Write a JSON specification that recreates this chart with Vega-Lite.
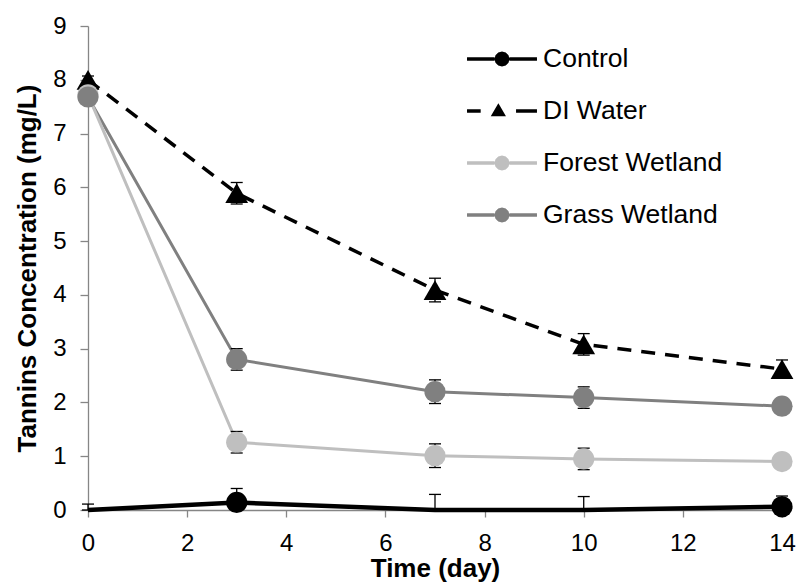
{
  "$schema": "https://vega.github.io/schema/vega-lite/v6.json",
  "width": 694,
  "height": 484,
  "autosize": {"type": "none"},
  "padding": {"left": 88, "top": 26, "right": 16, "bottom": 72},
  "background": "white",
  "config": {
    "view": {"stroke": null},
    "font": "Liberation Sans",
    "axis": {
      "grid": false,
      "domainColor": "#868686",
      "tickColor": "#868686",
      "domainWidth": 1.3,
      "tickWidth": 1.3,
      "labelColor": "#000000",
      "titleColor": "#000000",
      "labelFont": "Liberation Sans",
      "titleFont": "Liberation Sans",
      "labelFontSize": 24,
      "titleFontSize": 26,
      "titleFontWeight": "bold"
    },
    "legend": {"labelFont": "Liberation Sans"}
  },
  "data": {
    "values": [
      {"series": "Control", "time": 0, "value": -0.05, "lo": 0, "hi": 0.11},
      {"series": "Control", "time": 3, "value": 0.14, "lo": 0.14, "hi": 0.40},
      {"series": "Control", "time": 7, "value": -0.05, "lo": 0, "hi": 0.29},
      {"series": "Control", "time": 10, "value": -0.05, "lo": 0, "hi": 0.25},
      {"series": "Control", "time": 14, "value": 0.06, "lo": 0.06, "hi": 0.26},
      {"series": "DI Water", "time": 0, "value": 8.0, "lo": 7.93, "hi": 8.07},
      {"series": "DI Water", "time": 3, "value": 5.89, "lo": 5.69, "hi": 6.09},
      {"series": "DI Water", "time": 7, "value": 4.09, "lo": 3.87, "hi": 4.31},
      {"series": "DI Water", "time": 10, "value": 3.08, "lo": 2.88, "hi": 3.28},
      {"series": "DI Water", "time": 14, "value": 2.62, "lo": 2.45, "hi": 2.79},
      {"series": "Forest Wetland", "time": 0, "value": 7.72, "lo": null, "hi": null},
      {"series": "Forest Wetland", "time": 3, "value": 1.26, "lo": 1.06, "hi": 1.46},
      {"series": "Forest Wetland", "time": 7, "value": 1.01, "lo": 0.79, "hi": 1.23},
      {"series": "Forest Wetland", "time": 10, "value": 0.95, "lo": 0.75, "hi": 1.15},
      {"series": "Forest Wetland", "time": 14, "value": 0.90, "lo": null, "hi": null},
      {"series": "Grass Wetland", "time": 0, "value": 7.68, "lo": null, "hi": null},
      {"series": "Grass Wetland", "time": 3, "value": 2.80, "lo": 2.60, "hi": 3.00},
      {"series": "Grass Wetland", "time": 7, "value": 2.20, "lo": 1.98, "hi": 2.42},
      {"series": "Grass Wetland", "time": 10, "value": 2.09, "lo": 1.89, "hi": 2.29},
      {"series": "Grass Wetland", "time": 14, "value": 1.93, "lo": null, "hi": null}
    ]
  },
  "encoding": {
    "x": {
      "field": "time",
      "type": "quantitative",
      "scale": {"domain": [0, 14], "nice": false},
      "axis": {"title": "Time (day)", "values": [0, 2, 4, 6, 8, 10, 12, 14], "tickSize": 7, "labelPadding": 14, "titlePadding": 0, "labelFlush": false}
    }
  },
  "layer": [
    {
      "transform": [{"filter": "datum.time > 100"}],
      "mark": {"type": "point", "filled": false, "opacity": 1, "strokeWidth": 3.5},
      "encoding": {
        "y": {"field": "value", "type": "quantitative", "scale": {"domain": [0, 9], "nice": false, "clamp": true},
          "axis": {"title": "Tannins Concentration (mg/L)", "values": [0, 1, 2, 3, 4, 5, 6, 7, 8, 9], "format": "d", "tickSize": 8, "labelPadding": 14, "titlePadding": 12}},
        "color": {
          "field": "series", "type": "nominal",
          "scale": {"domain": ["Control", "DI Water", "Forest Wetland", "Grass Wetland"], "range": ["#000000", "#000000", "#bfbfbf", "#808080"]},
          "legend": {"title": null, "orient": "none", "legendX": 399, "legendY": 18, "padding": 0, "symbolSize": 676, "symbolStrokeWidth": 3.5, "symbolOpacity": 1, "labelFontSize": 26.5, "labelColor": "#000000", "labelOffset": 26, "labelLimit": 400, "rowPadding": 23}
        },
        "shape": {
          "field": "series", "type": "nominal",
          "scale": {"domain": ["Control", "DI Water", "Forest Wetland", "Grass Wetland"], "range": [
            "M-2.69,0L-0.57,0M0.57,0L2.69,0M0.44,0L0.381,0.22L0.22,0.381L0,0.44L-0.22,0.381L-0.381,0.22L-0.44,0L-0.381,-0.22L-0.22,-0.381L0,-0.44L0.22,-0.381L0.381,-0.22ZM0.17,0L0.085,0.147L-0.085,0.147L-0.17,0L-0.085,-0.147L0.085,-0.147Z",
            "M-2.69,0L-1.64,0M1.08,0L2.69,0M-0.28,-0.33L0.07,0.27L-0.63,0.27ZM-0.28,-0.08L-0.17,0.12L-0.39,0.12Z",
            "M-2.69,0L-0.57,0M0.57,0L2.69,0M0.44,0L0.381,0.22L0.22,0.381L0,0.44L-0.22,0.381L-0.381,0.22L-0.44,0L-0.381,-0.22L-0.22,-0.381L0,-0.44L0.22,-0.381L0.381,-0.22ZM0.17,0L0.085,0.147L-0.085,0.147L-0.17,0L-0.085,-0.147L0.085,-0.147Z",
            "M-2.69,0L-0.57,0M0.57,0L2.69,0M0.44,0L0.381,0.22L0.22,0.381L0,0.44L-0.22,0.381L-0.381,0.22L-0.44,0L-0.381,-0.22L-0.22,-0.381L0,-0.44L0.22,-0.381L0.381,-0.22ZM0.17,0L0.085,0.147L-0.085,0.147L-0.17,0L-0.085,-0.147L0.085,-0.147Z"
          ]},
          "legend": {"title": null, "orient": "none", "legendX": 399, "legendY": 18, "padding": 0, "symbolSize": 676, "symbolStrokeWidth": 3.5, "symbolOpacity": 1, "labelFontSize": 26.5, "labelColor": "#000000", "labelOffset": 26, "labelLimit": 400, "rowPadding": 23}
        }
      }
    },
    {
      "transform": [{"filter": "datum.series == 'Grass Wetland'"}],
      "mark": {"type": "line", "color": "#808080", "strokeWidth": 3},
      "encoding": {"y": {"field": "value", "type": "quantitative"}}
    },
    {
      "transform": [{"filter": "datum.series == 'Forest Wetland'"}],
      "mark": {"type": "line", "color": "#bfbfbf", "strokeWidth": 3},
      "encoding": {"y": {"field": "value", "type": "quantitative"}}
    },
    {
      "transform": [{"filter": "datum.series == 'DI Water'"}],
      "mark": {"type": "line", "color": "#000000", "strokeWidth": 3.5, "strokeDash": [14, 10]},
      "encoding": {"y": {"field": "value", "type": "quantitative"}}
    },
    {
      "transform": [{"filter": "datum.series == 'Control'"}],
      "mark": {"type": "line", "color": "#000000", "strokeWidth": 4.5},
      "encoding": {"y": {"field": "value", "type": "quantitative"}}
    },
    {
      "transform": [{"filter": "isValid(datum.hi)"}],
      "mark": {"type": "rule", "color": "#000000", "strokeWidth": 1.3},
      "encoding": {"y": {"field": "lo", "type": "quantitative"}, "y2": {"field": "hi"}}
    },
    {
      "transform": [{"filter": "isValid(datum.hi)"}],
      "mark": {"type": "tick", "orient": "horizontal", "color": "#000000", "size": 12, "thickness": 1.3, "opacity": 1},
      "encoding": {"y": {"field": "hi", "type": "quantitative"}}
    },
    {
      "transform": [{"filter": "isValid(datum.lo)"}],
      "mark": {"type": "tick", "orient": "horizontal", "color": "#000000", "size": 12, "thickness": 1.3, "opacity": 1},
      "encoding": {"y": {"field": "lo", "type": "quantitative"}}
    },
    {
      "transform": [{"filter": "datum.series == 'DI Water'"}],
      "mark": {"type": "point", "shape": "triangle-up", "filled": true, "opacity": 1, "size": 520, "color": "#000000"},
      "encoding": {"y": {"field": "value", "type": "quantitative"}}
    },
    {
      "transform": [{"filter": "datum.value >= 0 && datum.series != 'DI Water'"}],
      "mark": {"type": "point", "shape": "circle", "filled": true, "opacity": 1, "size": 450},
      "encoding": {
        "y": {"field": "value", "type": "quantitative"},
        "color": {
          "field": "series",
          "type": "nominal",
          "legend": {"title": null, "orient": "none", "legendX": 399, "legendY": 18, "padding": 0, "symbolSize": 676, "symbolStrokeWidth": 3.5, "symbolOpacity": 1, "labelFontSize": 26.5, "labelColor": "#000000", "labelOffset": 26, "labelLimit": 400, "rowPadding": 23}
        }
      }
    }
  ]
}
